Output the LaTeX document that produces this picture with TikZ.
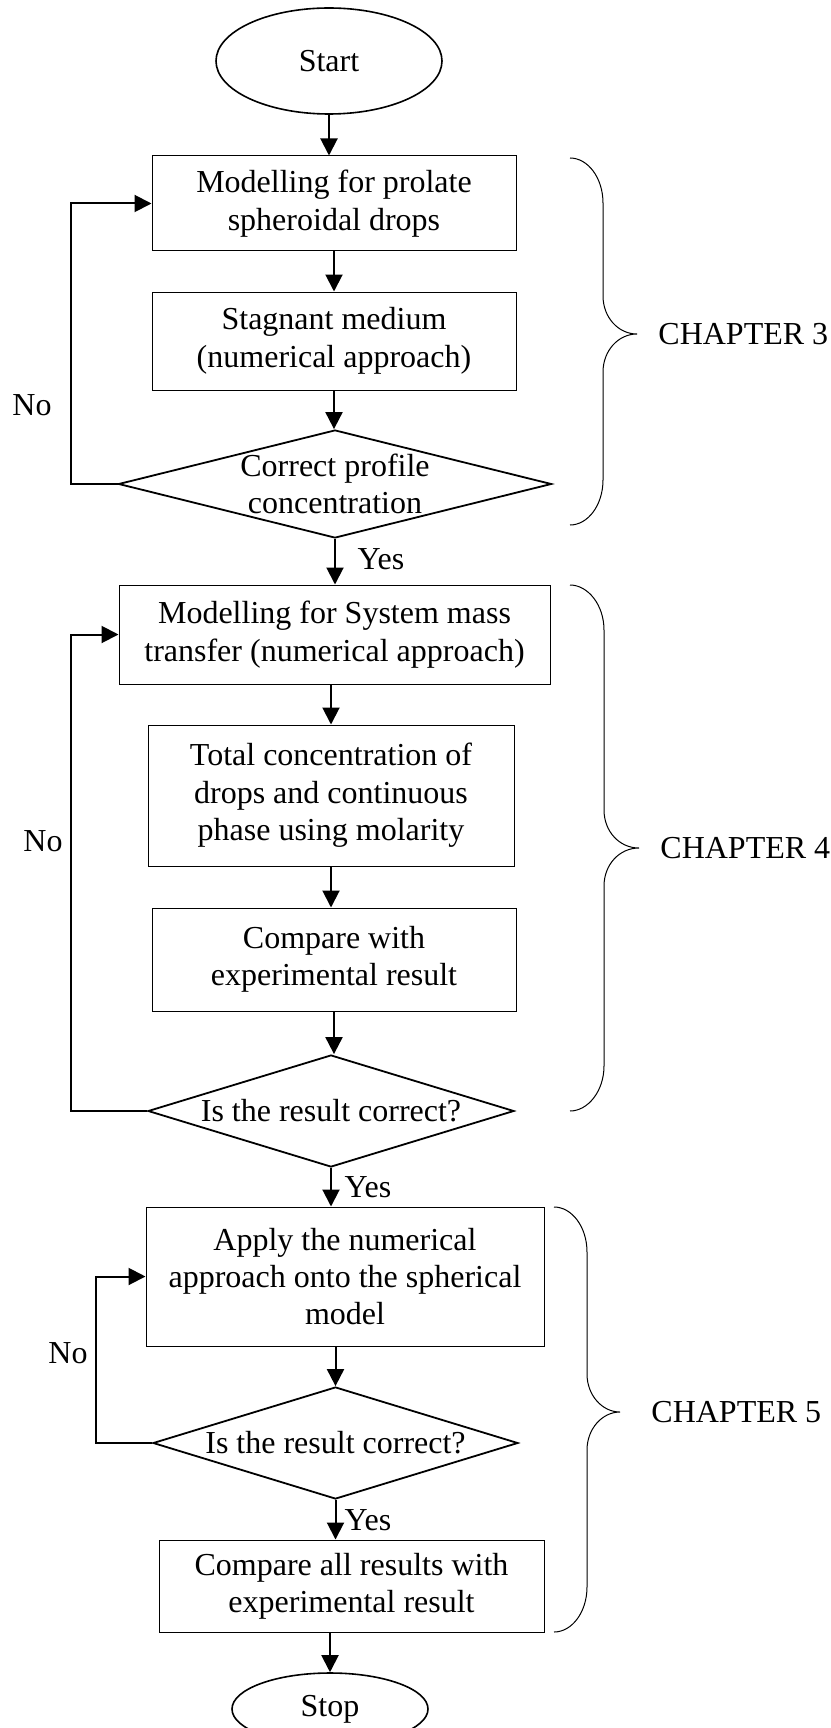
\documentclass[tikz,border=0pt]{standalone}
\usepackage{fontspec}
\setmainfont{Liberation Serif}
\usetikzlibrary{shapes.geometric,arrows.meta}
\newcommand\flowfont{\fontsize{16pt}{18.7pt}\selectfont}

\tikzset{
  flow/.style={font=\flowfont, align=center, inner sep=0pt},
  stepbox/.style={flow, draw, line width=0.5pt},
  decision/.style={flow, draw, diamond, line width=0.9pt},
  terminal/.style={flow, draw, ellipse, line width=0.8pt},
  arr/.style={line width=1pt, -{Triangle[length=8.5pt,width=8.5pt]}},
  chbrace/.style={line width=0.5pt},
}

\begin{document}
\begin{tikzpicture}[x=0.5pt, y=-0.5pt]
  \path[fill=white, use as bounding box] (0,0) rectangle (830,1728);

  % chapter 3
  \node[terminal, minimum width=113pt, minimum height=53pt] (start) at (329,61) {Start};
  \node[stepbox, minimum width=182pt, minimum height=47.5pt] (prolate) at (334,203.5) {Modelling for prolate\\spheroidal drops};
  \node[stepbox, minimum width=182pt, minimum height=49pt] (stagnant) at (334,341) {Stagnant medium\\(numerical approach)};
  \node[decision, minimum width=216.5pt, minimum height=54pt,
        label={[flow]center:{Correct profile\\concentration}}] (profile) at (335,484) {};

  % chapter 4
  \node[stepbox, minimum width=215.5pt, minimum height=49.5pt] (systemmt) at (334.5,634.5) {Modelling for System mass\\transfer (numerical approach)};
  \node[stepbox, minimum width=183pt, minimum height=70.5pt] (totalconc) at (331,795.5) {Total concentration of\\drops and continuous\\phase using molarity};
  \node[stepbox, minimum width=182pt, minimum height=51.5pt] (compexp) at (334,959.5) {Compare with\\experimental result};
  \node[decision, minimum width=183pt, minimum height=56pt,
        label={[flow]center:Is the result correct?}] (check4) at (331,1111) {};

  % chapter 5
  \node[stepbox, minimum width=199pt, minimum height=69.5pt] (applynum) at (345,1276.5) {Apply the numerical\\approach onto the spherical\\model};
  \node[decision, minimum width=182.5pt, minimum height=56pt,
        label={[flow]center:Is the result correct?}] (check5) at (335.5,1443) {};
  \node[stepbox, minimum width=192.5pt, minimum height=46pt] (compall) at (351.5,1586) {Compare all results with\\experimental result};
  \node[terminal, minimum width=98pt, minimum height=36pt] (stop) at (330,1709) {Stop};

  % main flow
  \draw[arr] (start.south) -- (start.south |- prolate.north);
  \draw[arr] (prolate.south) -- (stagnant.north);
  \draw[arr] (stagnant.south) -- (stagnant.south |- profile.north);
  \draw[arr] (profile.south) -- (profile.south |- systemmt.north);
  \draw[arr] (systemmt.south -| totalconc.north) -- (totalconc.north);
  \draw[arr] (totalconc.south) -- (totalconc.south |- compexp.north);
  \draw[arr] (compexp.south) -- (compexp.south |- check4.north);
  \draw[arr] (check4.south) -- (check4.south |- applynum.north);
  \draw[arr] (check5.north |- applynum.south) -- (check5.north);
  \draw[arr] (check5.south) -- (check5.south |- compall.north);
  \draw[arr] (stop.north |- compall.south) -- (stop.north);

  % loops back
  \draw[arr] (profile.west) -- ++(-46.5,0) |- (prolate.west);
  \draw[arr] (check4.west) -- ++(-76,0) |- (systemmt.west);
  \draw[arr] (check5.west) -- ++(-56,0) |- (applynum.west);

  \node[flow] (no3) at (32,405) {No};
  \node[flow] (no4) at (43,841) {No};
  \node[flow] (no5) at (68,1353) {No};
  \node[flow] (yes3) at (381,559) {Yes};
  \node[flow] (yes4) at (368,1187) {Yes};
  \node[flow] (yes5) at (368,1520) {Yes};

  % braces
  \draw[chbrace] (570,158) .. controls (588,158) and (603,178) .. (603,203) -- (603,296)
    .. controls (603,317) and (618,334) .. (637,334)
    .. controls (618,334) and (603,351) .. (603,372) -- (603,480)
    .. controls (603,505) and (588,525) .. (570,525);
  \draw[chbrace] (570,585) .. controls (588,585) and (604,605) .. (604,630) -- (604,810)
    .. controls (604,831) and (619,848) .. (639,848)
    .. controls (619,848) and (604,865) .. (604,886) -- (604,1066)
    .. controls (604,1091) and (588,1111) .. (570,1111);
  \draw[chbrace] (554,1207) .. controls (572,1207) and (587,1227) .. (587,1252) -- (587,1374)
    .. controls (587,1395) and (602,1412) .. (620,1412)
    .. controls (602,1412) and (587,1429) .. (587,1450) -- (587,1587)
    .. controls (587,1612) and (572,1632) .. (554,1632);

  \node[flow, anchor=west] (chap3) at (658,334) {CHAPTER 3};
  \node[flow, anchor=west] (chap4) at (660,848) {CHAPTER 4};
  \node[flow, anchor=west] (chap5) at (651,1412) {CHAPTER 5};
\end{tikzpicture}
\end{document}
